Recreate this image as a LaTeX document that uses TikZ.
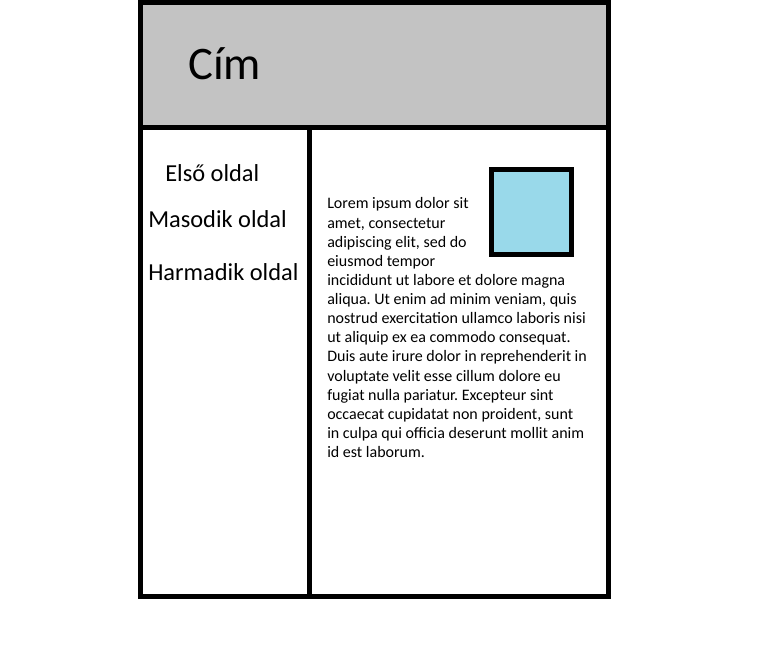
\documentclass[tikz,border=0pt]{standalone}
\usepackage{fontspec}
\setmainfont{Carlito}
\usetikzlibrary{positioning}
\definecolor{fejlec}{RGB}{195, 195, 195}
\definecolor{kepkek}{RGB}{153, 217, 234}
\tikzset{
  keret/.style={line width=3.75pt},
  menupont/.style={anchor=base west, inner sep=0pt, font=\fontsize{18.3}{20}\selectfont},
}

\begin{document}
\frenchspacing
\begin{tikzpicture}[x=0.75pt, y=-0.75pt]
        \useasboundingbox (0,0) rectangle (760,671);
        % fejlec
        \fill [fejlec] (140.5,2) rectangle (608.5,127.5);
        \draw [keret] (140.5,2) rectangle (608.5,596);
        \draw [keret] (140.5,127.5) -- (608.5,127.5);
        \draw [keret] (309.5,127.5) -- (309.5,596);
        \node [anchor=base west, inner sep=0pt, font=\fontsize{35}{38}\selectfont] (cim) at (188,79) {Cím};
        % menu
        \node [menupont] (elso) at (165,181) {Első oldal};
        \node [menupont] (masodik) at (148,227) {Masodik oldal};
        \node [menupont] (harmadik) at (148,280) {Harmadik oldal};
        % kep es szoveg
        \draw [keret, fill=kepkek] (491.5,169.5) rectangle (571.5,254.5);
        \node [anchor=north west, inner sep=0pt, align=left,
          font=\fontsize{12}{14.35}\selectfont] (szoveg) at (327,197.5) {Lorem ipsum dolor sit\\
          amet, consectetur\\
          adipiscing elit, sed do\\
          eiusmod tempor\\
          incididunt ut labore et dolore magna\\
          aliqua. Ut enim ad minim veniam, quis\\
          nostrud exercitation ullamco laboris nisi\\
          ut aliquip ex ea commodo consequat.\\
          Duis aute irure dolor in reprehenderit in\\
          voluptate velit esse cillum dolore eu\\
          fugiat nulla pariatur. Excepteur sint\\
          occaecat cupidatat non proident, sunt\\
          in culpa qui officia deserunt mollit anim\\
          id est laborum.};
      \end{tikzpicture}
\end{document}
